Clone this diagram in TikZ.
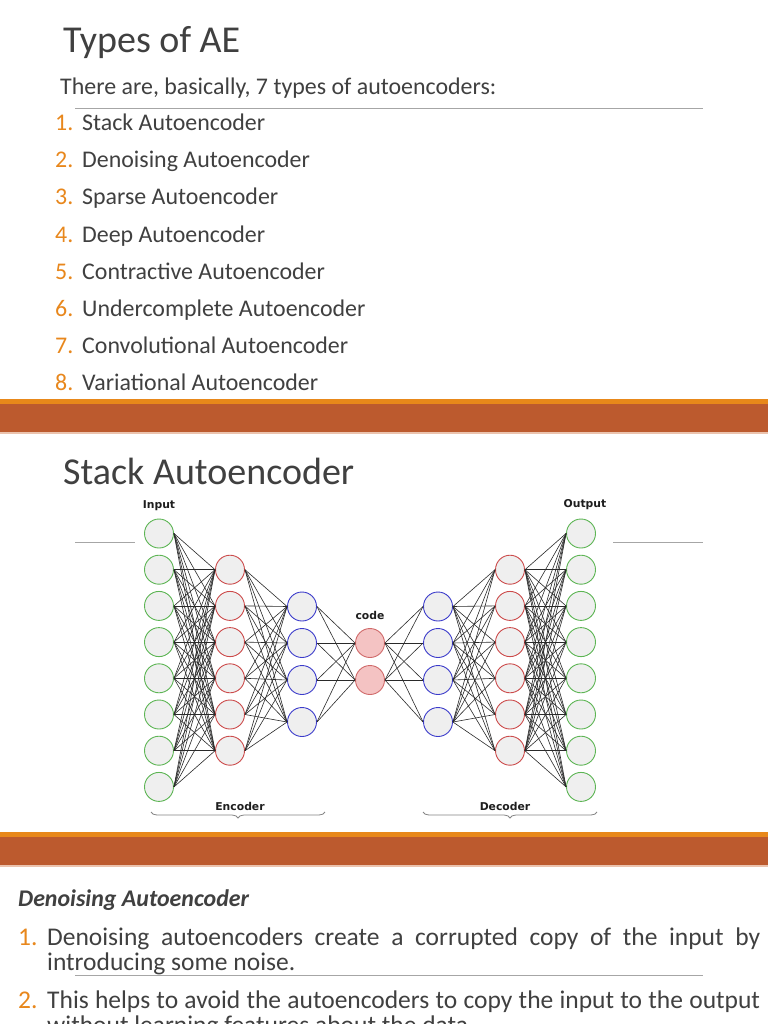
\documentclass[tikz,border=0pt]{standalone}
\usepackage{fontspec}
\setmainfont{Carlito}
\newfontfamily\lblfont{DejaVu Sans}
\usetikzlibrary{decorations.pathreplacing}
\definecolor{txt}{HTML}{404040}
\definecolor{orn}{HTML}{E8871C}
\definecolor{barA}{HTML}{E8881A}
\definecolor{barB}{HTML}{BC5A2E}
\definecolor{barC}{HTML}{EBC3AE}
\definecolor{rulec}{HTML}{A6A6A6}
\definecolor{nfill}{HTML}{EFEFEF}
\definecolor{ngreen}{HTML}{5DB554}
\definecolor{nred}{HTML}{CC4B4B}
\definecolor{nblue}{HTML}{3C3CCB}
\definecolor{cfill}{HTML}{F4C3C3}
\definecolor{cdraw}{HTML}{D06A6A}
\definecolor{edgec}{HTML}{2A2A2A}
\definecolor{lblc}{HTML}{1E1E1E}
\begin{document}
\begin{tikzpicture}[x=1pt,y=-1pt,
  titlestyle/.style={anchor=base west,inner sep=0pt,text=txt,font=\fontsize{38}{44}\selectfont},
  bodystyle/.style={anchor=base west,inner sep=0pt,text=txt,font=\fontsize{23.9}{28}\selectfont},
  numstyle/.style={anchor=base west,inner sep=0pt,text=orn,font=\fontsize{23.9}{28}\selectfont},
  body3/.style={anchor=base west,inner sep=0pt,text=txt,font=\fontsize{25.5}{30}\selectfont},
  num3/.style={anchor=base west,inner sep=0pt,text=orn,font=\fontsize{25.5}{30}\selectfont},
  rulestyle/.style={draw=rulec,line width=1pt},
  neuron/.style={circle,minimum size=29pt,inner sep=0pt,line width=0.9pt,fill=nfill},
  gnode/.style={neuron,draw=ngreen},
  rnode/.style={neuron,draw=nred},
  bnode/.style={neuron,draw=nblue},
  cnode/.style={neuron,draw=cdraw,fill=cfill},
  edge/.style={draw=edgec,line width=0.6pt},
  lbl/.style={inner sep=0pt,text=lblc,font=\lblfont\bfseries\fontsize{10.8}{12}\selectfont},
  bracestyle/.style={draw=rulec!80!black,line width=0.8pt,decorate,decoration={brace,mirror,amplitude=6pt}}
]
\useasboundingbox (0,0) rectangle (768,1024);
\clip (0,0) rectangle (768,1024);
\fill[white] (0,0) rectangle (768,1024);

% ---------- Slide 1 ----------
\node[titlestyle] (t1) at (63,53) {Types of AE};
\node[bodystyle] (intro) at (60,95) {There are, basically, 7 types of autoencoders:};
\coordinate (r1a) at (75,109);
\coordinate (r1b) at (703,109);
\draw[rulestyle] (r1a) -- (r1b);
\foreach \i/\t in {1/Stack Autoencoder,2/Denoising Autoencoder,3/Sparse Autoencoder,4/Deep Autoencoder,5/Contractive Autoencoder,6/Undercomplete Autoencoder,7/Convolutional Autoencoder,8/Variational Autoencoder}{
  \node[numstyle] (n\i) at (55,{131+37*(\i-1)}) {\i.};
  \node[bodystyle] (i\i) at (82,{131+37*(\i-1)}) {\t};
}

% ---------- bar 1 ----------
\fill[barA] (0,399) rectangle (768,403.5);
\fill[barB] (0,403.5) rectangle (768,432);
\fill[barC] (0,432) rectangle (768,433.5);

% ---------- Slide 2 ----------
\node[titlestyle] (t2) at (63,484) {Stack Autoencoder};
\coordinate (r2a) at (75,542);
\coordinate (r2b) at (135,542);
\coordinate (r2c) at (613,542);
\coordinate (r2d) at (703,542);
\draw[rulestyle] (r2a) -- (r2b);
\draw[rulestyle] (r2c) -- (r2d);

% neurons
\foreach \i in {1,...,8}{
  \node[gnode] (a\i) at (159,{533.5+36.2*(\i-1)}) {};
  \node[gnode] (f\i) at (581,{533.5+36.2*(\i-1)}) {};
}
\foreach \i in {1,...,6}{
  \node[rnode] (b\i) at (230,{569.7+36.2*(\i-1)}) {};
  \node[rnode] (e\i) at (510,{569.7+36.2*(\i-1)}) {};
}
\foreach \i/\y in {1/606.5,2/643,3/680,4/722}{
  \node[bnode] (c\i) at (302,\y) {};
  \node[bnode] (d\i) at (438,\y) {};
}
\node[cnode] (z1) at (370,643) {};
\node[cnode] (z2) at (370,680) {};

% connections
\foreach \i in {1,...,8}{\foreach \j in {1,...,6}{
  \draw[edge] (a\i.east) -- (b\j.west);
  \draw[edge] (e\j.east) -- (f\i.west);
}}
\foreach \i in {1,...,6}{\foreach \j in {1,...,4}{
  \draw[edge] (b\i.east) -- (c\j.west);
  \draw[edge] (d\j.east) -- (e\i.west);
}}
\foreach \i in {1,...,4}{\foreach \j in {1,2}{
  \draw[edge] (c\i.east) -- (z\j.west);
  \draw[edge] (z\j.east) -- (d\i.west);
}}

% labels
\node[lbl] (linput) at (159,506) {Input};
\node[lbl] (loutput) at (585,505) {Output};
\node[lbl] (lcode) at (370,615) {code};
\node[lbl] (lenc) at (240,806) {Encoder};
\node[lbl] (ldec) at (505,806) {Decoder};
\coordinate (be1) at (151,812);
\coordinate (be2) at (325,812);
\coordinate (bd1) at (423,812);
\coordinate (bd2) at (597,812);
\draw[bracestyle] (be1) -- (be2);
\draw[bracestyle] (bd1) -- (bd2);

% ---------- bar 2 ----------
\fill[barA] (0,832) rectangle (768,837);
\fill[barB] (0,837) rectangle (768,865);
\fill[barC] (0,865) rectangle (768,866.5);

% ---------- Slide 3 ----------
\node[anchor=base west,inner sep=0pt,text=txt,font=\fontsize{23.9}{28}\selectfont\bfseries\itshape] (h3) at (18,906) {Denoising Autoencoder};
\node[num3] (m1) at (18,945) {1.};
\node[body3] (p1a) at (47,945) {\makebox[713pt][s]{Denoising autoencoders create a corrupted copy of the input by}};
\node[body3] (p1b) at (47,970) {introducing some noise.};
\coordinate (r3a) at (75,975);
\coordinate (r3b) at (703,975);
\draw[rulestyle] (r3a) -- (r3b);
\node[num3] (m2) at (18,1008) {2.};
\node[body3] (p2a) at (47,1008) {\makebox[713pt][s]{This helps to avoid the autoencoders to copy the input to the output}};
\node[body3] (p2b) at (47,1033) {without learning features about the data.};
\end{tikzpicture}
\end{document}
